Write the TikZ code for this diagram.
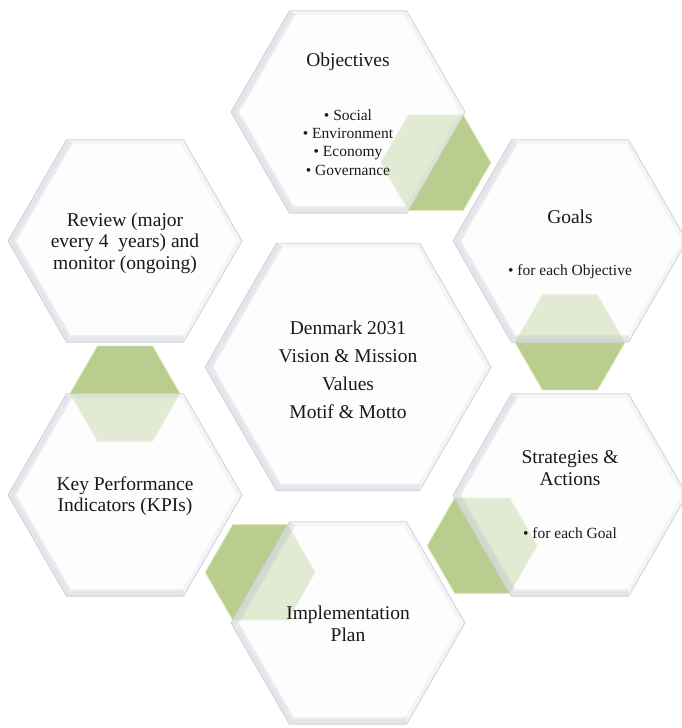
\documentclass[tikz,border=0pt]{standalone}
\usepackage{fontspec}
\setmainfont{Liberation Serif}
\usetikzlibrary{shapes.geometric,calc,backgrounds}

\definecolor{leaf}{RGB}{185,205,143}
\definecolor{leafedge}{RGB}{214,232,172}
\definecolor{cellfill}{RGB}{252,252,253}
\definecolor{celledge}{RGB}{206,210,220}
\definecolor{bevelgray}{RGB}{176,178,196}
\definecolor{ink}{RGB}{25,25,25}

\newcommand{\headfont}{\fontsize{19.5}{21.5}\selectfont}
\newcommand{\listfont}{\fontsize{15.5}{18.3}\selectfont}

\tikzset{
  hexcell/.style={regular polygon, regular polygon sides=6, minimum size=234pt,
    inner sep=0pt, outer sep=0pt, fill=cellfill, fill opacity=0.62,
    draw=celledge, line width=0.8pt,
    path picture={
      % bevel along the rim
      \coordinate (tl) at ($(path picture bounding box.north west)!0.5!(path picture bounding box.north)$);
      \coordinate (tr) at ($(path picture bounding box.north)!0.5!(path picture bounding box.north east)$);
      \coordinate (bl) at ($(path picture bounding box.south west)!0.5!(path picture bounding box.south)$);
      \coordinate (br) at ($(path picture bounding box.south)!0.5!(path picture bounding box.south east)$);
      \coordinate (lv) at (path picture bounding box.west);
      \coordinate (rv) at (path picture bounding box.east);
      \draw[bevelgray, line width=9pt, draw opacity=0.1] (lv) -- (tl) -- (tr) -- (rv) -- (br) -- (bl) -- cycle;
      \draw[bevelgray, line width=14pt, draw opacity=0.24, line join=miter] (tl) -- (lv) -- (bl) -- (br);
    }},
  bigcell/.style={hexcell, minimum size=286pt},
  chip/.style={regular polygon, regular polygon sides=6, minimum size=110pt,
    inner sep=0pt, outer sep=0pt, fill=leaf, draw=leafedge, line width=0.8pt},
  head/.style={align=center, font=\headfont, text=ink},
  items/.style={align=center, font=\listfont, text=ink},
}

\begin{document}
\begin{tikzpicture}[x=1pt, y=-1pt]
 \useasboundingbox (0,0) rectangle (681,728);

 %cells
 \node[bigcell] (core) at (348,367) {};
 \node[hexcell] (obj) at (348,112) {};
 \node[hexcell] (goal) at (570,241) {};
 \node[hexcell] (strat) at (570,495) {};
 \node[hexcell] (plan) at (348,623) {};
 \node[hexcell] (kpi) at (125,495) {};
 \node[hexcell] (rev) at (125,241) {};

 %chips sit under the cells
 \begin{pgfonlayer}{background}
   \fill[white] (0,0) rectangle (681,728);
   \foreach \cell/\side/\name in {obj/5/c1, goal/4/c2, strat/3/c3, plan/2/c4, kpi/1/c5}
     \node[chip] (\name) at (\cell.side \side) {};
 \end{pgfonlayer}

 %texts
 \node[head, font=\fontsize{19.5}{28}\selectfont] (coreT) at ([yshift=-2.5pt]core.center)
   {Denmark 2031\\Vision \& Mission\\Values\\Motif \& Motto};
 \node[head] (objT) at ([yshift=50pt]obj.center) {Objectives};
 \node[items] (objL) at ([yshift=-30.5pt]obj.center)
   {\textbullet\ Social\\\textbullet\ Environment\\\textbullet\ Economy\\\textbullet\ Governance};
 \node[head] (goalT) at ([yshift=24pt]goal.center) {Goals};
 \node[items] (goalL) at ([yshift=-31pt]goal.center) {\textbullet\ for each Objective};
 \node[head] (stratT) at ([yshift=27pt]strat.center) {Strategies \&\\Actions};
 \node[items] (stratL) at ([yshift=-38pt]strat.center) {\textbullet\ for each Goal};
 \node[head] (planT) at ([yshift=-1pt]plan.center) {Implementation\\Plan};
 \node[head] (kpiT) at ([yshift=-1pt]kpi.center) {Key Performance\\Indicators (KPIs)};
 \node[head] (revT) at ([yshift=-2pt]rev.center) {Review (major\\every 4~ years) and\\monitor (ongoing)};

\end{tikzpicture}
\end{document}
